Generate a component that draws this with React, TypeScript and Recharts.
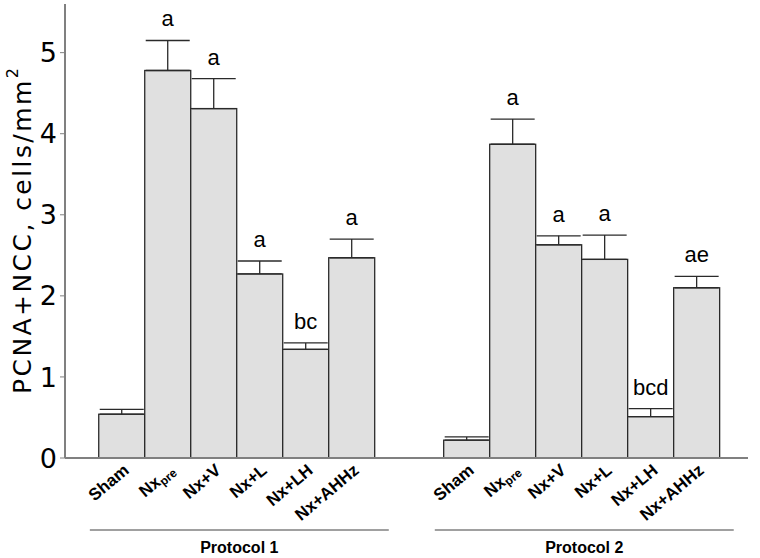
import { BarChart, Bar, XAxis, YAxis, ErrorBar, LabelList } from 'recharts';

// values (cells/mm2, mean and SEM)
const protocols = ['Protocol 1', 'Protocol 2'];
const categories = ['Sham', 'Nx_pre', 'Nx+V', 'Nx+L', 'Nx+LH', 'Nx+AHHz'];
const protocol1Means = [0.54, 4.78, 4.31, 2.27, 1.34, 2.47];
const protocol1Sem = [0.06, 0.37, 0.37, 0.16, 0.08, 0.23];
const protocol1Letters = ['', 'a', 'a', 'a', 'bc', 'a'];
const protocol2Means = [0.22, 3.87, 2.63, 2.45, 0.51, 2.1];
const protocol2Sem = [0.04, 0.31, 0.11, 0.3, 0.1, 0.14];
const protocol2Letters = ['', 'a', 'a', 'a', 'bcd', 'ae'];
const yTicks = [0, 1, 2, 3, 4, 5];

const W = 760;
const H = 558;
const PLOT_LEFT = 65;
const PLOT_RIGHT = 748;
const GROUP_STEP = 7.5;
const X_MIN = -1.24;
const X_MAX = 13.61;

const rows = [
  ...categories.map((name, i) => ({ slot: i, name, mean: protocol1Means[i], sem: protocol1Sem[i], letter: protocol1Letters[i] })),
  ...categories.map((name, i) => ({ slot: GROUP_STEP + i, name, mean: protocol2Means[i], sem: protocol2Sem[i], letter: protocol2Letters[i] })),
];

const xPx = (s: number) => PLOT_LEFT + ((s - X_MIN) / (X_MAX - X_MIN)) * (PLOT_RIGHT - PLOT_LEFT);
const slotWidth = (PLOT_RIGHT - PLOT_LEFT) / (X_MAX - X_MIN);

const comic = '"Comic Sans MS", "Liberation Sans", sans-serif';

// bars touch each other: widen each rect to the full slot around its centre
function SlotBar(props: any) {
  const { x, y, width, height } = props;
  const cx = x + width / 2;
  return (
    <rect x={cx - slotWidth / 2} y={y} width={slotWidth} height={height} fill="#e0e0e0" stroke="#2a2a2a" strokeWidth={1.3} />
  );
}

function CategoryTick(props: any) {
  const { x, y, payload } = props;
  const row = rows.find((r) => Math.abs(r.slot - payload.value) < 0.01);
  if (!row) return null;
  const [main, sub] = row.name.split('_');
  return (
    <text
      transform={`translate(${x + 8},${y + 14}) rotate(-40)`}
      textAnchor="end"
      fontFamily={comic}
      fontWeight="bold"
      fontSize={17}
      fill="#000"
    >
      {main}
      {sub && (
        <tspan fontSize={12} dy={3}>
          {sub}
        </tspan>
      )}
    </text>
  );
}

function LetterLabel(props: any) {
  const { x, y, width, height, index } = props;
  const row = rows[index];
  if (!row || !row.letter) return null;
  const capY = y - row.sem * (height / row.mean);
  return (
    <text x={x + width / 2} y={capY - 14} textAnchor="middle" fontFamily={comic} fontSize={22} fill="#000">
      {row.letter}
    </text>
  );
}

export default function App() {
  return (
    <div style={{ position: 'absolute', left: 0, top: 0, width: W, height: H, background: '#fff' }}>
      <BarChart
        width={W}
        height={H}
        data={rows}
        barCategoryGap={0}
        barGap={0}
        margin={{ top: 4, right: W - PLOT_RIGHT, bottom: 0, left: 0 }}
      >
        <XAxis
          type="number"
          dataKey="slot"
          domain={[X_MIN, X_MAX]}
          allowDataOverflow
          ticks={rows.map((r) => r.slot)}
          interval={0}
          height={100}
          tickLine={false}
          tickSize={0}
          tickMargin={0}
          axisLine={{ stroke: '#808080', strokeWidth: 2 }}
          tick={<CategoryTick />}
        />
        <YAxis
          width={PLOT_LEFT}
          domain={[0, 5.6]}
          ticks={yTicks}
          tickSize={5}
          tickMargin={3}
          axisLine={{ stroke: '#808080', strokeWidth: 2 }}
          tickLine={{ stroke: '#808080', strokeWidth: 1 }}
          tick={{ fontSize: 27, fill: '#000', fontFamily: 'DejaVu Sans' }}
        />
        <Bar dataKey="mean" barSize={slotWidth} shape={<SlotBar />} isAnimationActive={false}>
          <ErrorBar dataKey={(d: any) => [0, d.sem]} width={22} stroke="#2a2a2a" strokeWidth={1.3} direction="y" />
          <LabelList dataKey="letter" content={<LetterLabel />} />
        </Bar>
      </BarChart>
      <svg width={W} height={H} style={{ position: 'absolute', left: 0, top: 0, pointerEvents: 'none' }}>
        <text
          transform="translate(31,231) rotate(-90)"
          textAnchor="middle"
          fontFamily="DejaVu Sans"
          fontSize={25}
          fill="#000"
          textLength={326}
          lengthAdjust="spacing"
        >
          PCNA+NCC, cells/mm
          <tspan fontSize={16} dy={-13}>
            2
          </tspan>
        </text>
        {protocols.map((p, g) => {
          const x1 = xPx(g * GROUP_STEP - 0.7);
          const x2 = xPx(g * GROUP_STEP + 5.8);
          return (
            <g key={p}>
              <line x1={x1} x2={x2} y1={530} y2={530} stroke="#808080" strokeWidth={1.5} />
              <text x={(x1 + x2) / 2} y={553} textAnchor="middle" fontFamily={comic} fontWeight="bold" fontSize={16} fill="#000">
                {p}
              </text>
            </g>
          );
        })}
      </svg>
    </div>
  );
}
